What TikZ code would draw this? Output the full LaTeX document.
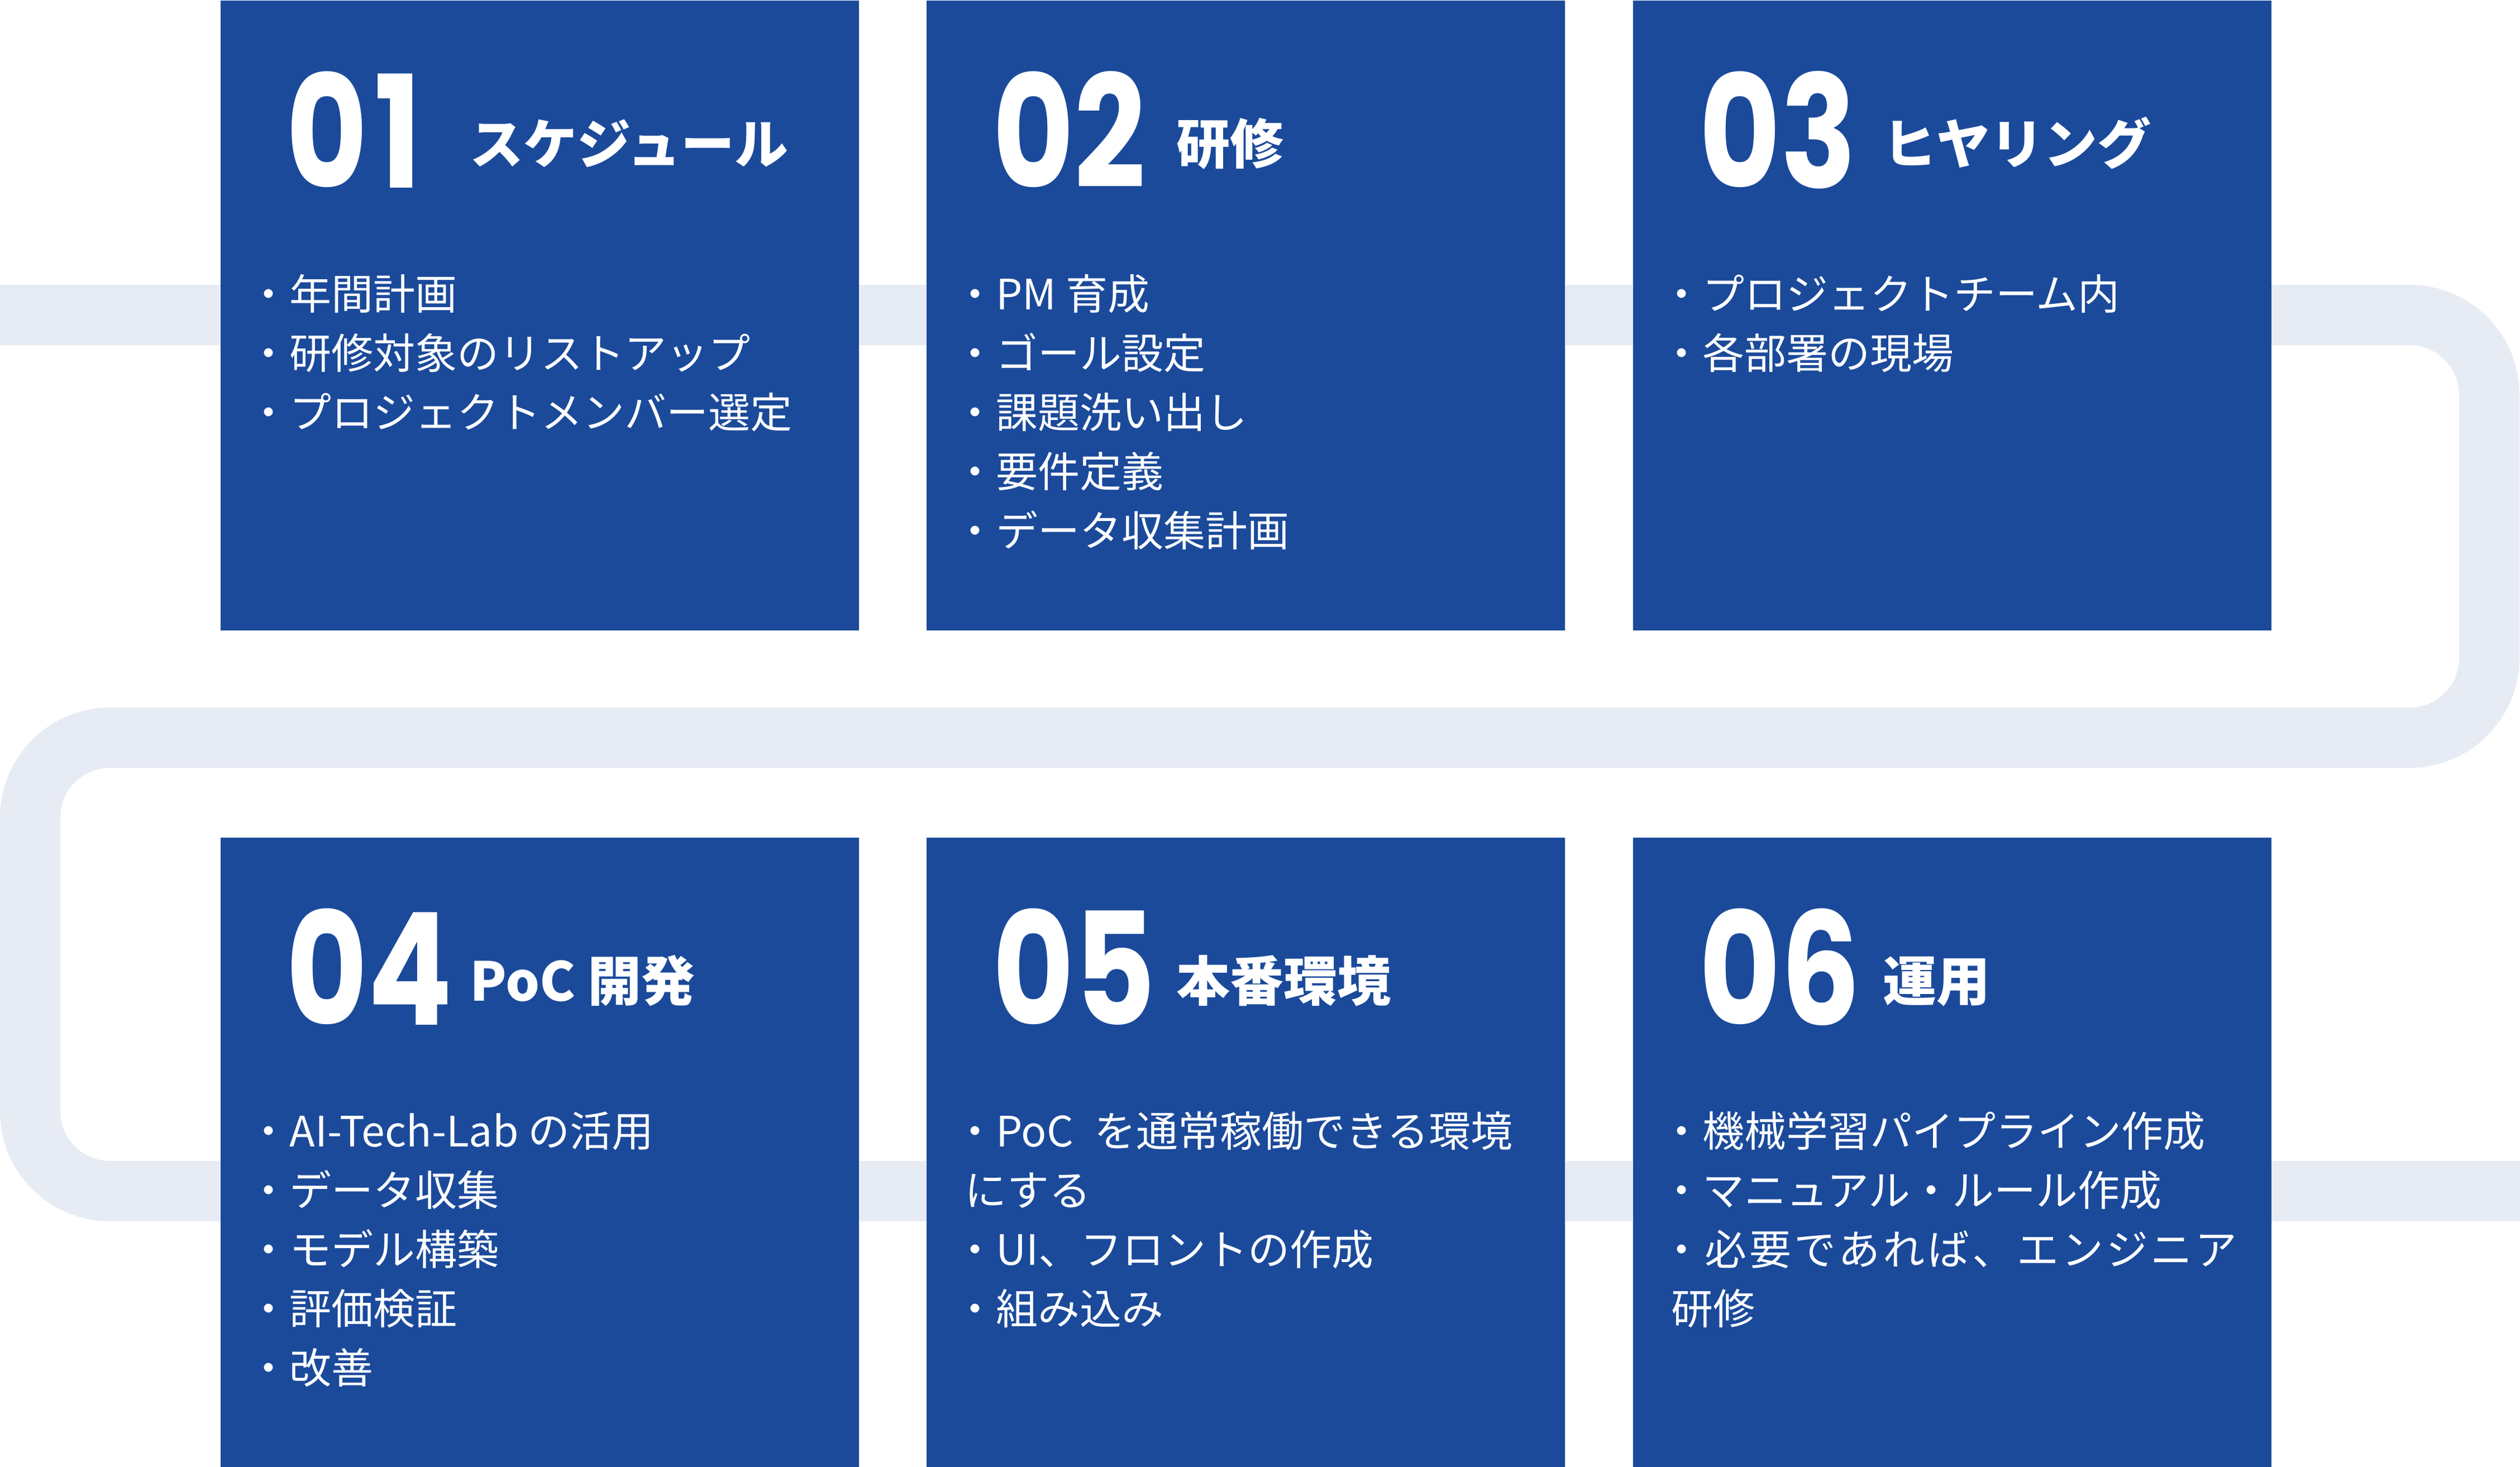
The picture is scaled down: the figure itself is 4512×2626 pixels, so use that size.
\documentclass[tikz,border=0pt]{standalone}
\usepackage{fontspec}
\newfontfamily\jpfont{Noto Sans CJK JP}
\newfontfamily\numfont[FakeStretch=0.8]{Poppins}
\usetikzlibrary{calc}
\usetikzlibrary{math}
\usetikzlibrary{positioning}

\definecolor{stageblue}{RGB}{27,74,155}
\definecolor{roadgray}{RGB}{231,235,244}

\begin{document}
\begin{tikzpicture}[x=0.25pt,y=-0.25pt,
  stage/.style={fill=stageblue, minimum width=285.75pt, minimum height=282pt, inner sep=0pt},
  num/.style={text=white, inner sep=0pt, anchor=base west,
    font=\numfont\bfseries\fontsize{70}{70}\selectfont},
  title/.style={text=white, inner sep=0pt, anchor=base west,
    font=\jpfont\bfseries\fontsize{24}{28}\selectfont},
  item/.style={text=white, inner sep=0pt, anchor=base west,
    font=\jpfont\fontsize{18.75}{26.5}\selectfont}]

  \tikzmath{
    \numx   = 118; % numeral origin from box corner
    \numy   = 336;
    \titlex = 447; % title origin
    \titley = 293;
    \itemx  = 49;  % first bullet line
    \itemy  = 554;
    \lead   = 106; % line pitch of the bullet lines
  }

  \useasboundingbox (0,0) rectangle (4512,2626);

  % road that runs behind the stages
  \draw[roadgray, line width=27pt, rounded corners=35.75pt]
    (0,564) -- (4457,564) -- (4457,1321) -- (54,1321) -- (54,2133) -- (4512,2133);

  % stages
  \node[stage, anchor=north west] (s1) at (394,0) {};
  \node[stage, right=30pt of s1] (s2) {};
  \node[stage, right=30pt of s2] (s3) {};
  \node[stage, below=92.5pt of s1] (s4) {};
  \node[stage, right=30pt of s4] (s5) {};
  \node[stage, right=30pt of s5] (s6) {};

  % 01
  \node[num] (n1) at ($(s1.north west)+(\numx,\numy)$) {0\kern3pt1};
  \node[title] (t1) at ($(s1.north west)+(\titlex,\titley)$) {スケジュール};
  \foreach \txt [count=\i] in {・年間計画, ・研修対象のリストアップ, ・プロジェクトメンバー選定}
    \node[item] (i1-\i) at ($(s1.north west)+(\itemx,{\itemy+\lead*(\i-1)})$) {\txt};

  % 02
  \node[num] (n2) at ($(s2.north west)+(\numx,\numy)$) {02};
  \node[title] (t2) at ($(s2.north west)+(\titlex,\titley)$) {研修};
  \foreach \txt [count=\i] in {・PM 育成, ・ゴール設定, ・課題洗い出し, ・要件定義, ・データ収集計画}
    \node[item] (i2-\i) at ($(s2.north west)+(\itemx,{\itemy+\lead*(\i-1)})$) {\txt};

  % 03
  \node[num] (n3) at ($(s3.north west)+(\numx,\numy)$) {03};
  \node[title] (t3) at ($(s3.north west)+(\titlex,\titley)$) {ヒヤリング};
  \foreach \txt [count=\i] in {・プロジェクトチーム内, ・各部署の現場}
    \node[item] (i3-\i) at ($(s3.north west)+(\itemx,{\itemy+\lead*(\i-1)})$) {\txt};

  % 04
  \node[num] (n4) at ($(s4.north west)+(\numx,\numy)$) {04};
  \node[title] (t4) at ($(s4.north west)+(\titlex,\titley)$) {PoC 開発};
  \foreach \txt [count=\i] in {・AI-Tech-Lab の活用, ・データ収集, ・モデル構築, ・評価検証, ・改善}
    \node[item] (i4-\i) at ($(s4.north west)+(\itemx,{\itemy+\lead*(\i-1)})$) {\txt};

  % 05
  \node[num] (n5) at ($(s5.north west)+(\numx,\numy)$) {05};
  \node[title] (t5) at ($(s5.north west)+(\titlex,\titley)$) {本番環境};
  \foreach \txt [count=\i] in {・PoC\hspace{0.5em}を通常稼働できる環境, \hspace*{4.75pt}にする, ・UI、フロントの作成, ・組み込み}
    \node[item] (i5-\i) at ($(s5.north west)+(\itemx,{\itemy+\lead*(\i-1)})$) {\txt};

  % 06
  \node[num] (n6) at ($(s6.north west)+(\numx,\numy)$) {06};
  \node[title] (t6) at ($(s6.north west)+(\titlex,\titley)$) {運用};
  \foreach \txt [count=\i] in {・機械学習パイプライン作成, ・マニュアル・ルール作成, {\addfontfeature{LetterSpace=6.5}・必要であれば、エンジニア}, \hspace*{4.75pt}研修}
    \node[item] (i6-\i) at ($(s6.north west)+(\itemx,{\itemy+\lead*(\i-1)})$) {\txt};

\end{tikzpicture}
\end{document}
